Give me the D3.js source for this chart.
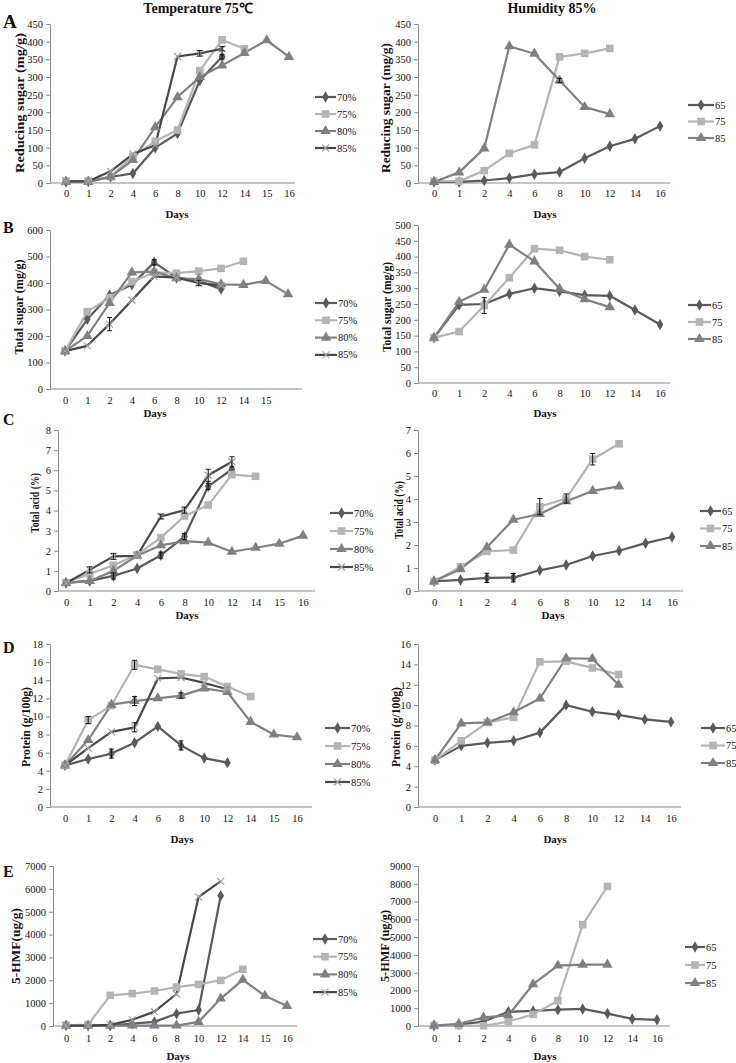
<!DOCTYPE html>
<html><head><meta charset="utf-8">
<script src="https://cdn.jsdelivr.net/npm/d3@7"></script>
<style>body{margin:0;background:#fff;}svg{display:block;}text{font-family:"Liberation Serif","Times New Roman",serif;fill:#111;}</style>
</head><body>
<script>
// ---------- DATA ----------
const daysTemp  = ["0","1","2","4","6","8","10","12","14","15","16"];
const daysTempB = ["0","1","2","4","6","8","10","12","14","15",""];
const daysHum   = ["0","1","2","4","6","8","10","12","14","16"];
const tempLevels = ["70%","75%","80%","85%"];
const humLevels  = ["65","75","85"];

const redSugarTemp = [
  [3,4,17,27,100,140,290,357,null,null,null],
  [5,5,18,75,118,150,318,405,380,null,null],
  [3,3,18,65,158,243,300,333,368,404,357],
  [5,5,33,82,107,358,367,380,null,null,null]
];
const redSugarHum = [
  [3,3,7,14,25,31,70,104,125,161],
  [5,5,35,84,108,357,367,381,null,null],
  [3,30,98,387,366,290,215,195,null,null]
];
const totSugarTemp = [
  [143,263,355,393,478,420,408,377,null,null,null],
  [143,292,345,405,440,437,445,455,482,null,null],
  [143,200,325,440,443,418,415,395,393,408,358],
  [143,163,245,335,425,420,400,390,null,null,null]
];
const totSugarHum = [
  [143,247,250,282,300,290,278,276,231,185],
  [143,163,245,333,425,420,400,390,null,null],
  [143,257,295,438,385,298,265,240,null,null]
];
const acidTemp = [
  [0.4,0.5,0.75,1.12,1.78,2.7,5.2,6.05,null,null,null],
  [0.42,0.85,1.28,1.8,2.65,3.72,4.27,5.78,5.7,null,null],
  [0.4,0.5,1.0,1.75,2.27,2.48,2.4,1.95,2.15,2.35,2.75],
  [0.4,1.05,1.72,1.75,3.7,4.02,5.75,6.42,null,null,null]
];
const acidHum = [
  [0.42,0.48,0.57,0.58,0.9,1.13,1.52,1.75,2.08,2.35],
  [0.42,1.05,1.72,1.78,3.67,4.02,5.73,6.4,null,null],
  [0.42,0.95,1.9,3.1,3.35,3.9,4.35,4.55,null,null]
];
const proteinTemp = [
  [4.6,5.3,5.9,7.1,8.9,6.8,5.4,4.9,null,null,null],
  [4.6,9.6,11.2,15.7,15.2,14.7,14.4,13.3,12.2,null,null],
  [4.6,7.4,11.3,11.7,12.0,12.3,13.1,12.7,9.4,8.0,7.7],
  [4.6,6.5,8.3,8.8,14.2,14.3,13.7,13.0,null,null,null]
];
const proteinHum = [
  [4.6,6.0,6.3,6.5,7.3,10.0,9.35,9.05,8.6,8.35],
  [4.6,6.5,8.3,8.8,14.25,14.3,13.65,13.0,null,null],
  [4.6,8.2,8.3,9.3,10.65,14.6,14.55,12.0,null,null]
];
const hmfTemp = [
  [20,20,20,100,180,540,700,5700,null,null,null],
  [30,60,1340,1420,1530,1700,1820,2000,2480,null,null],
  [10,10,10,20,20,20,180,1200,2020,1320,880],
  [20,20,50,270,630,1400,5650,6330,null,null,null]
];
const hmfHum = [
  [20,80,250,800,850,920,960,700,400,350],
  [30,20,10,250,650,1420,5700,7850,null,null],
  [20,120,480,600,2350,3400,3450,3450,null,null]
];
// error bars: [series index, category index, +/- error]
const errRedSugarTemp = [[3,6,8],[3,7,6],[0,7,6]];
const errRedSugarHum  = [[2,5,6]];
const errTotSugarTemp = [[3,2,25],[0,4,10],[3,6,10]];
const errTotSugarHum  = [[1,2,25]];
const errAcidTemp = [[3,1,0.15],[3,2,0.15],[3,4,0.12],[3,5,0.15],[3,6,0.3],[3,7,0.25],[0,2,0.15],[0,4,0.15],[0,5,0.15],[0,6,0.15]];
const errAcidHum  = [[0,2,0.2],[0,3,0.18],[1,4,0.35],[1,5,0.2],[1,6,0.25]];
const errProteinTemp = [[1,1,0.4],[1,3,0.5],[3,3,0.5],[0,2,0.5],[0,5,0.5],[2,3,0.5],[2,5,0.3]];
const errProteinHum  = [];
const errHmfTemp = [];
const errHmfHum  = [];

// ---------- STYLES ----------
const tempStyles = [
  {color:"#5a5a5a", marker:"diamond"},
  {color:"#b4b4b4", marker:"square"},
  {color:"#808080", marker:"triangle"},
  {color:"#474747", marker:"x"}
];
const humStyles = [
  {color:"#5a5a5a", marker:"diamond"},
  {color:"#b4b4b4", marker:"square"},
  {color:"#808080", marker:"triangle"}
];

const svg = d3.select("body").append("svg").attr("width",736).attr("height",1063);
const SERIF = "Liberation Serif, Times New Roman, serif";

function drawMarker(g, type, color, x, y){
  if(type==="x"){
    const s=3.5;
    g.append("path").attr("d",`M${x-s},${y-s}L${x+s},${y+s}M${x-s},${y+s}L${x+s},${y-s}`)
      .attr("stroke","#a0a0a0").attr("stroke-width",1.2).attr("fill","none");
    return;
  }
  const sym = type==="diamond"?d3.symbolDiamond:type==="square"?d3.symbolSquare:d3.symbolTriangle;
  const size = type==="diamond"?38:type==="square"?58:48;
  g.append("path").attr("d",d3.symbol().type(sym).size(size)())
    .attr("transform",`translate(${x},${y})`).attr("fill",color);
}

function panel(c){
  const g = svg.append("g");
  const idx = c.cats.map((d,i)=>i);
  const x = d3.scalePoint().domain(idx).range([c.x0,c.x1]);
  const y = d3.scaleLinear().domain([0,c.yMax]).range([c.yBot,c.yTop]);
  // y axis
  const ya = g.append("g").attr("transform",`translate(${c.ax},0)`)
    .call(d3.axisLeft(y).tickValues(d3.range(0,c.yMax+1e-9,c.yStep)).tickFormat(d=>String(d))
      .tickSize(4).tickSizeOuter(0).tickPadding(3));
  ya.attr("font-family",SERIF);
  ya.select(".domain").attr("stroke","#8a8a8a");
  ya.selectAll(".tick line").attr("stroke","#8a8a8a");
  ya.selectAll("text").attr("font-size",10.5).attr("fill","#111");
  // x axis
  const xa = g.append("g").attr("transform",`translate(0,${c.yBot})`)
    .call(d3.axisBottom(x).tickSize(0).tickPadding(c.tickY-c.yBot-7.5).tickFormat(i=>c.cats[i]));
  xa.attr("font-family",SERIF);
  xa.select(".domain").remove();
  xa.selectAll("text").attr("font-size",10.5).attr("fill","#111");
  g.append("line").attr("x1",c.ax).attr("x2",c.xEnd).attr("y1",c.yBot).attr("y2",c.yBot)
    .attr("stroke","#8a8a8a");
  // lines
  c.data.forEach((arr,si)=>{
    const st=c.styles[si];
    const pts = arr.map((v,i)=>({i,v})).filter(d=>d.v!=null);
    g.append("path").datum(pts)
      .attr("d",d3.line().x(d=>x(d.i)).y(d=>y(d.v)))
      .attr("fill","none").attr("stroke",st.color).attr("stroke-width",2.2).attr("stroke-linejoin","round");
  });
  c.data.forEach((arr,si)=>{
    const st=c.styles[si];
    arr.forEach((v,i)=>{ if(v!=null) drawMarker(g,st.marker,st.color,x(i),y(v)); });
  });
  // error bars
  c.errs.forEach(([si,i,e])=>{
    const v=c.data[si][i], px=x(i);
    const eg=g.append("g").attr("stroke","#111").attr("stroke-width",1);
    eg.append("line").attr("x1",px).attr("x2",px).attr("y1",y(v-e)).attr("y2",y(v+e));
    eg.append("line").attr("x1",px-2.5).attr("x2",px+2.5).attr("y1",y(v-e)).attr("y2",y(v-e));
    eg.append("line").attr("x1",px-2.5).attr("x2",px+2.5).attr("y1",y(v+e)).attr("y2",y(v+e));
  });
  // y title
  g.append("text").attr("transform",`translate(${c.ytX},${c.ytY}) rotate(-90)`)
    .attr("text-anchor","middle").attr("dominant-baseline","central")
    .attr("font-weight","bold").attr("font-size",c.ytFs)
    .attr("textLength",c.ytLen).attr("lengthAdjust","spacingAndGlyphs").text(c.ytitle);
  // Days
  g.append("text").attr("x",c.daysX).attr("y",c.daysY).attr("text-anchor","middle")
    .attr("font-weight","bold").attr("font-size",11).text("Days");
  // legend
  c.names.forEach((n,si)=>{
    const st=c.styles[si], ly=c.legY+si*c.legDy;
    g.append("line").attr("x1",c.legX).attr("x2",c.legX+c.legW).attr("y1",ly).attr("y2",ly)
      .attr("stroke",st.color).attr("stroke-width",2.2);
    drawMarker(g,st.marker,st.color,c.legX+c.legW/2,ly);
    g.append("text").attr("x",c.legX+c.legW+1).attr("y",ly).attr("dominant-baseline","central")
      .attr("font-size",10.5).text(n);
  });
}

const L=tempStyles, R=humStyles;
panel({data:redSugarTemp,errs:errRedSugarTemp,cats:daysTemp,styles:L,names:tempLevels,
  ax:50,x0:66,x1:289,xEnd:295,yTop:24,yBot:183,yMax:450,yStep:50,tickY:197,
  ytitle:"Reducing sugar (mg/g)",ytX:19,ytY:103,ytLen:140,ytFs:13,daysX:177,daysY:218,
  legX:315,legW:21,legY:97,legDy:17});
panel({data:redSugarHum,errs:errRedSugarHum,cats:daysHum,styles:R,names:humLevels,
  ax:418,x0:434,x1:660,xEnd:670,yTop:24,yBot:183,yMax:450,yStep:50,tickY:197,
  ytitle:"Reducing sugar (mg/g)",ytX:386,ytY:108,ytLen:130,ytFs:12.5,daysX:545,daysY:218,
  legX:688,legW:26,legY:105,legDy:16.5});
panel({data:totSugarTemp,errs:errTotSugarTemp,cats:daysTempB,styles:L,names:tempLevels,
  ax:50,x0:65,x1:288,xEnd:302,yTop:230,yBot:389,yMax:600,yStep:100,tickY:404,
  ytitle:"Total sugar (mg/g)",ytX:19,ytY:307,ytLen:95,ytFs:12,daysX:155,daysY:417,
  legX:315,legW:22,legY:303,legDy:17.3});
panel({data:totSugarHum,errs:errTotSugarHum,cats:daysHum,styles:R,names:humLevels,
  ax:418,x0:434,x1:660,xEnd:670,yTop:225,yBot:383,yMax:500,yStep:50,tickY:397,
  ytitle:"Total sugar (mg/g)",ytX:387,ytY:307,ytLen:90,ytFs:12,daysX:545,daysY:417,
  legX:688,legW:23,legY:305,legDy:17});
panel({data:acidTemp,errs:errAcidTemp,cats:daysTemp,styles:L,names:tempLevels,
  ax:58,x0:66,x1:303,xEnd:315,yTop:430,yBot:591,yMax:8,yStep:1,tickY:606,
  ytitle:"Total acid (%)",ytX:35,ytY:503,ytLen:60,ytFs:11.5,daysX:187,daysY:619,
  legX:330,legW:23,legY:513,legDy:18});
panel({data:acidHum,errs:errAcidHum,cats:daysHum,styles:R,names:humLevels,
  ax:418,x0:434,x1:672,xEnd:683,yTop:430,yBot:591,yMax:7,yStep:1,tickY:606,
  ytitle:"Total acid (%)",ytX:399,ytY:510,ytLen:58,ytFs:11.5,daysX:553,daysY:619,
  legX:700,legW:21,legY:511,legDy:17.5});
panel({data:proteinTemp,errs:errProteinTemp,cats:daysTemp,styles:L,names:tempLevels,
  ax:50,x0:65,x1:297,xEnd:312,yTop:644,yBot:807,yMax:18,yStep:2,tickY:822,
  ytitle:"Protein (g/100g)",ytX:26,ytY:727,ytLen:80,ytFs:12,daysX:182,daysY:843,
  legX:325,legW:25,legY:728,legDy:18});
panel({data:proteinHum,errs:errProteinHum,cats:daysHum,styles:R,names:humLevels,
  ax:418,x0:435,x1:671,xEnd:681,yTop:644,yBot:807,yMax:16,yStep:2,tickY:822,
  ytitle:"Protein (g/100g)",ytX:396,ytY:727,ytLen:80,ytFs:12,daysX:555,daysY:843,
  legX:701,legW:24,legY:728,legDy:17.5});
panel({data:hmfTemp,errs:errHmfTemp,cats:daysTemp,styles:L,names:tempLevels,
  ax:53,x0:66,x1:287,xEnd:297,yTop:866,yBot:1026,yMax:7000,yStep:1000,tickY:1042,
  ytitle:"5-HMF(ug/g)",ytX:16,ytY:946,ytLen:76,ytFs:11.5,daysX:178,daysY:1060,
  legX:313,legW:24,legY:939,legDy:17.7});
panel({data:hmfHum,errs:errHmfHum,cats:daysHum,styles:R,names:humLevels,
  ax:418,x0:434,x1:657,xEnd:670,yTop:866,yBot:1026,yMax:9000,yStep:1000,tickY:1042,
  ytitle:"5-HMF (ug/g)",ytX:385,ytY:946,ytLen:72,ytFs:11.5,daysX:545,daysY:1060,
  legX:685,legW:20,legY:947,legDy:18});

// titles and letters
svg.append("text").attr("x",198).attr("y",13).attr("text-anchor","middle")
  .attr("font-weight","bold").attr("font-size",14).text("Temperature  75℃");
svg.append("text").attr("x",552).attr("y",13).attr("text-anchor","middle")
  .attr("font-weight","bold").attr("font-size",14).text("Humidity 85%");
[["A",28,19],["B",233,16],["C",425,16],["D",653,16],["E",877,16]].forEach(([t,yy,fs])=>{
  svg.append("text").attr("x",3).attr("y",yy).attr("font-weight","bold").attr("font-size",fs).text(t);
});
</script>
</body></html>
